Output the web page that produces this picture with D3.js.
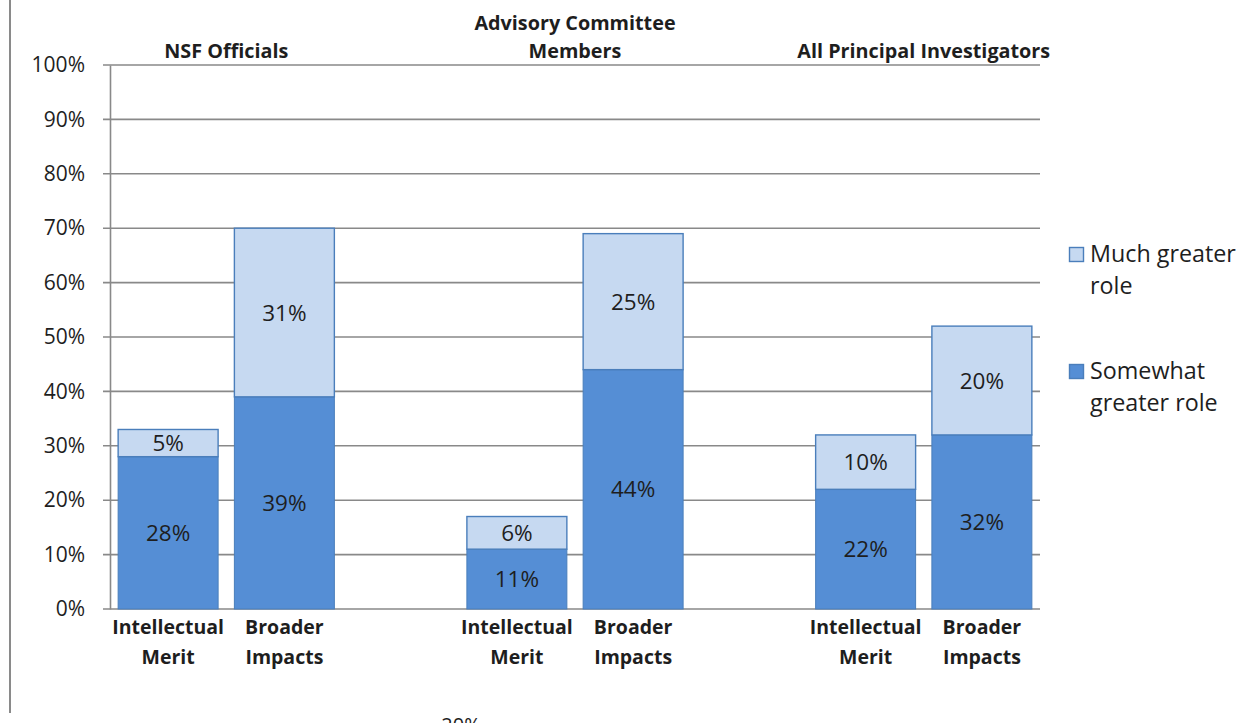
<!DOCTYPE html>
<html>
<head>
<meta charset="utf-8">
<script src="https://cdn.jsdelivr.net/npm/d3@7"></script>
<style>
  body { margin: 0; background: #fff; }
  svg { display: block; font-family: "Open Sans", sans-serif; }
</style>
</head>
<body>
<svg id="chart"></svg>
<script>
// categories (blank slots separate the three groups)
var slots = ["nsf-im", "nsf-bi", "gap1", "ac-im", "ac-bi", "gap2", "pi-im", "pi-bi"];
var barSlots = ["nsf-im", "nsf-bi", "ac-im", "ac-bi", "pi-im", "pi-bi"];
var barLabels = [["Intellectual", "Merit"], ["Broader", "Impacts"],
                 ["Intellectual", "Merit"], ["Broader", "Impacts"],
                 ["Intellectual", "Merit"], ["Broader", "Impacts"]];
var somewhat = [28, 39, 11, 44, 22, 32];
var much = [5, 31, 6, 25, 10, 20];
var groupTitles = [["NSF Officials"], ["Advisory Committee", "Members"], ["All Principal Investigators"]];
var groupSlots = [["nsf-im", "nsf-bi"], ["ac-im", "ac-bi"], ["pi-im", "pi-bi"]];
var yTicks = [0, 10, 20, 30, 40, 50, 60, 70, 80, 90, 100];
var seriesNames = ["Much greater role", "Somewhat greater role"];
var legendLines = [["Much greater", "role"], ["Somewhat", "greater role"]];

var W = 1252, H = 723;
var plotLeft = 110, plotRight = 1040, plotTop = 65, plotBottom = 609;
var darkFill = "#558ed5", lightFill = "#c6d9f1", barStroke = "#4a7ebb";
var textCol = "#1e1e1e", gridCol = "#898989";

var svg = d3.select("#chart").attr("width", W).attr("height", H);

var x = d3.scaleBand().domain(slots).range([plotLeft, plotRight]).paddingInner(0.14).paddingOuter(0.07);
var y = d3.scaleLinear().domain([0, 100]).range([plotBottom, plotTop]);

// outer left border
svg.append("line")
  .attr("x1", 10).attr("x2", 10).attr("y1", 0).attr("y2", 713)
  .attr("stroke", "#8a8a8a").attr("stroke-width", 2);

// gridlines
svg.append("g").selectAll("line").data(yTicks).enter().append("line")
  .attr("x1", plotLeft - 7).attr("x2", plotRight)
  .attr("y1", d => y(d)).attr("y2", d => y(d))
  .attr("stroke", gridCol).attr("stroke-width", 1.6);

// y axis
var yAxis = svg.append("g")
  .attr("transform", "translate(" + plotLeft + ",0)")
  .call(d3.axisLeft(y).tickValues(yTicks).tickSize(0).tickPadding(25).tickFormat(d => d + "%"));
yAxis.select(".domain").attr("stroke", gridCol).attr("stroke-width", 1.6);
yAxis.selectAll("text").attr("font-size", 21).attr("fill", textCol).attr("font-family", "Open Sans");

var bars = barSlots.map((s, i) => ({ slot: s, a: somewhat[i], b: much[i] }));

// somewhat greater role (bottom)
svg.append("g").selectAll("rect").data(bars).enter().append("rect")
  .attr("x", d => x(d.slot)).attr("width", x.bandwidth())
  .attr("y", d => y(d.a)).attr("height", d => y(0) - y(d.a))
  .attr("fill", darkFill).attr("stroke", barStroke).attr("stroke-width", 1);

// much greater role (top)
svg.append("g").selectAll("rect").data(bars).enter().append("rect")
  .attr("x", d => x(d.slot)).attr("width", x.bandwidth())
  .attr("y", d => y(d.a + d.b)).attr("height", d => y(d.a) - y(d.a + d.b))
  .attr("fill", lightFill).attr("stroke", barStroke).attr("stroke-width", 1.4);

// data labels
var lbl = svg.append("g").attr("font-size", 22.5).attr("fill", textCol).attr("text-anchor", "middle");
bars.forEach(d => {
  lbl.append("text").attr("x", x(d.slot) + x.bandwidth() / 2).attr("y", y(d.a / 2))
    .attr("dy", "0.36em").text(d.a + "%");
  lbl.append("text").attr("x", x(d.slot) + x.bandwidth() / 2).attr("y", y(d.a + d.b / 2))
    .attr("dy", "0.36em").text(d.b + "%");
});

// category labels
var cat = svg.append("g").attr("font-size", 19.5).attr("font-weight", "bold")
  .attr("fill", textCol).attr("text-anchor", "middle");
barSlots.forEach((s, i) => {
  barLabels[i].forEach((t, j) => {
    cat.append("text").attr("x", x(s) + x.bandwidth() / 2).attr("y", plotBottom + 18 + j * 30)
      .attr("dy", "0.35em").text(t);
  });
});

// group titles
var gt = svg.append("g").attr("font-size", 19.8).attr("font-weight", "bold")
  .attr("fill", textCol).attr("text-anchor", "middle");
groupTitles.forEach((lines, i) => {
  var cx = (x(groupSlots[i][0]) + x(groupSlots[i][1]) + x.bandwidth()) / 2;
  lines.forEach((t, j) => {
    gt.append("text").attr("x", cx).attr("y", 51 - (lines.length - 1 - j) * 28)
      .attr("dy", "0.35em").text(t);
  });
});

// legend
var lg = svg.append("g").attr("font-size", 23.3).attr("fill", textCol);
var legendY = [247, 364];
seriesNames.forEach((n, i) => {
  lg.append("rect").attr("x", 1069.5).attr("y", legendY[i] + 0.5).attr("width", 14).attr("height", 14)
    .attr("fill", i === 0 ? lightFill : darkFill).attr("stroke", barStroke).attr("stroke-width", 1.4);
  legendLines[i].forEach((t, j) => {
    lg.append("text").attr("x", 1090).attr("y", legendY[i] + 7 + j * 32)
      .attr("dy", "0.35em").text(t);
  });
});

// stray clipped label at the bottom edge
svg.append("text").attr("x", 461).attr("y", 732).attr("text-anchor", "middle")
  .attr("font-size", 20).attr("fill", textCol).text("20%");
</script>
</body>
</html>
